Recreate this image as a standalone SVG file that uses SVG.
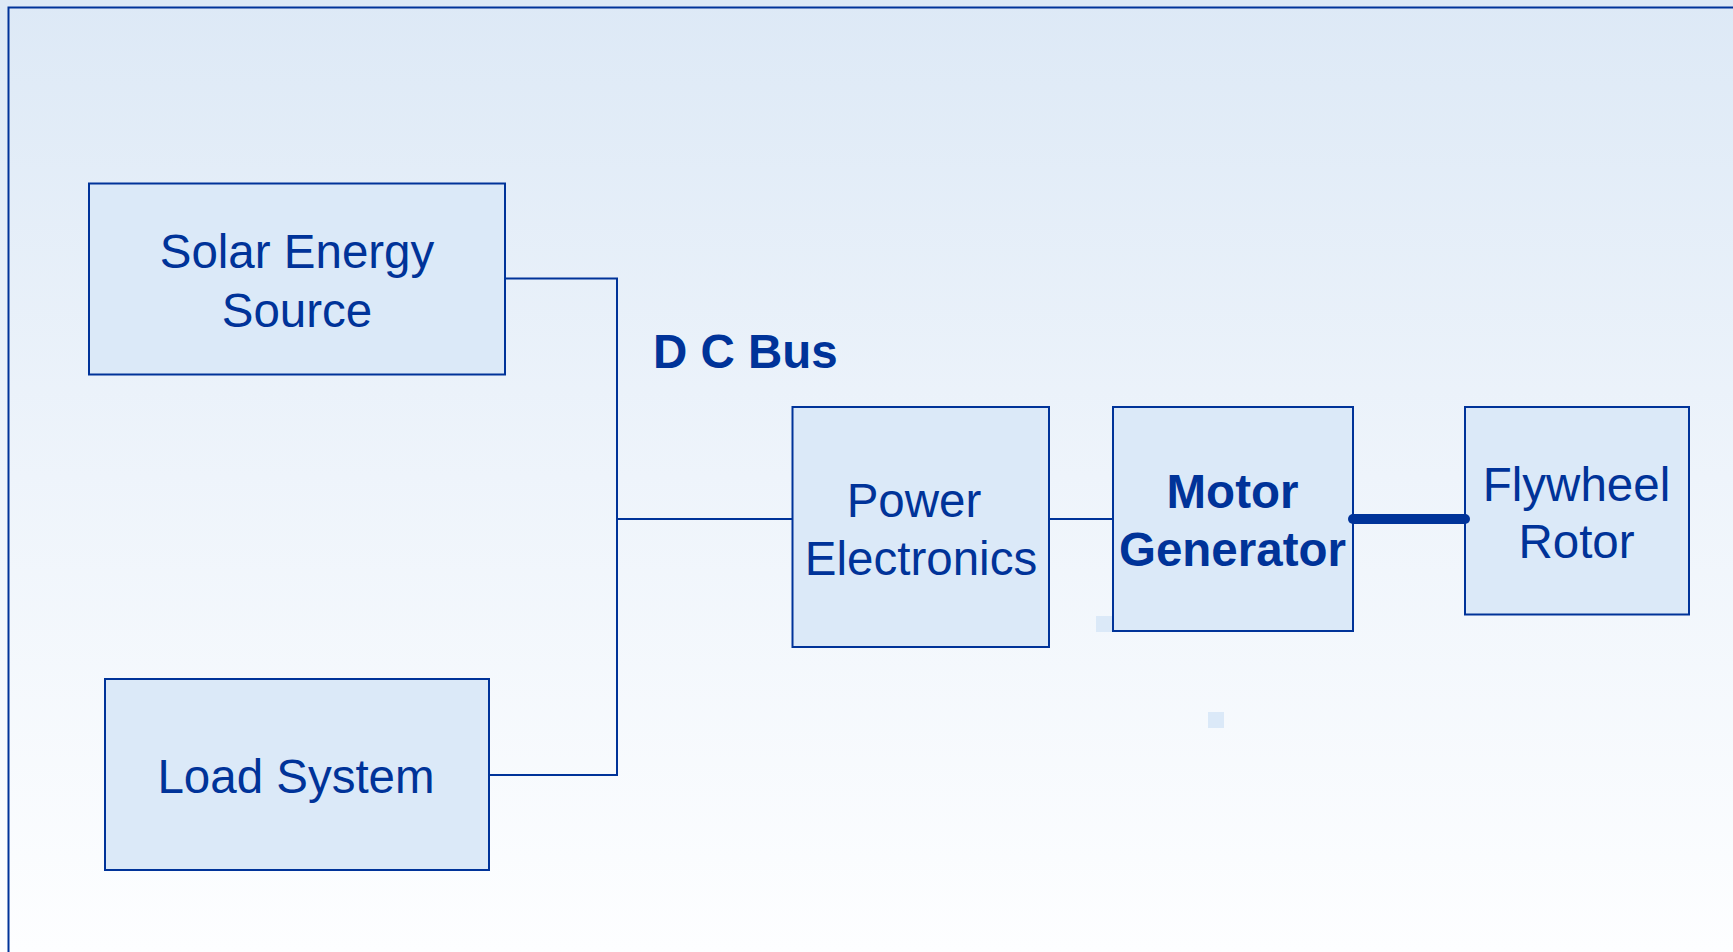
<svg xmlns="http://www.w3.org/2000/svg" width="1733" height="952" viewBox="0 0 1733 952">
  <defs>
    <linearGradient id="bg" x1="0" y1="0" x2="0" y2="1">
      <stop offset="0" stop-color="#dde9f6"/>
      <stop offset="0.5" stop-color="#eef4fb"/>
      <stop offset="1" stop-color="#fdfeff"/>
    </linearGradient>
  </defs>
  <style>
    .box { fill: #dbe9f8; stroke: #003399; stroke-width: 2; }
    .lbl { font-family: "Liberation Sans", Arial, sans-serif; font-size: 47.5px; fill: #003399; text-anchor: middle; }
    .bold { font-weight: bold; }
    .wire { stroke: #003399; stroke-width: 2; fill: none; }
    .sq { fill: #dbe9f8; }
  </style>
  <rect x="0" y="0" width="1733" height="952" fill="url(#bg)"/>
  <rect x="8.5" y="7.5" width="2000" height="2000" fill="none" stroke="#003399" stroke-width="2"/>

  <rect class="sq" x="1096" y="616" width="16" height="16"/>
  <rect class="sq" x="1208" y="712" width="16" height="16"/>

  <text id="dcbus" class="lbl bold" x="653" y="368" font-size="48" style="text-anchor:start">D C Bus</text>

  <g id="solar">
    <rect class="box" x="89" y="183.5" width="416" height="191"/>
    <text class="lbl" x="297" y="268">Solar Energy</text>
    <text class="lbl" x="297" y="327">Source</text>
  </g>

  <g id="load">
    <rect class="box" x="105" y="679" width="384" height="191"/>
    <text class="lbl" x="296" y="793">Load System</text>
  </g>

  <g id="power">
    <rect class="box" x="792.5" y="407" width="256.5" height="240"/>
    <text class="lbl" x="914" y="517">Power</text>
    <text class="lbl" x="921" y="575">Electronics</text>
  </g>

  <g id="motor">
    <rect class="box" x="1113" y="407" width="240" height="224"/>
    <text class="lbl bold" x="1232.5" y="508">Motor</text>
    <text class="lbl bold" x="1232.5" y="566">Generator</text>
  </g>

  <g id="flywheel">
    <rect class="box" x="1465" y="407" width="224" height="207.5"/>
    <text class="lbl" x="1576.5" y="501">Flywheel</text>
    <text class="lbl" x="1576.5" y="558">Rotor</text>
  </g>

  <g id="connectors">
    <polyline class="wire" points="505,278.5 617,278.5 617,775"/>
    <line class="wire" x1="488" y1="775" x2="618" y2="775" stroke-width="3"/>
    <line class="wire" x1="617" y1="519" x2="792" y2="519"/>
    <line class="wire" x1="1049" y1="519" x2="1113" y2="519"/>
    <line x1="1353" y1="519" x2="1465" y2="519" stroke="#003399" stroke-width="10" stroke-linecap="round"/>
  </g>
</svg>
